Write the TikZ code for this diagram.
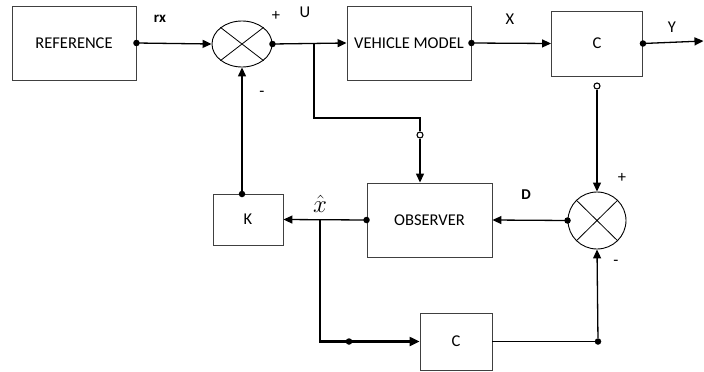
\documentclass[tikz,border=0pt]{standalone}
\usepackage{fontspec}
\setmainfont{Carlito}
\usetikzlibrary{shapes.geometric,arrows.meta}
\begin{document}
\begin{tikzpicture}[x=1pt,y=-1pt,
  blk/.style={draw=black!75, line width=0.9pt, inner sep=0pt, font=\fontsize{16.5}{19}\selectfont},
  sumn/.style={ellipse, draw, line width=0.9pt, inner sep=0pt},
  wire/.style={line width=1.3pt},
  conn/.style={line width=1.3pt, -{Triangle[length=9pt,width=8pt]}},
  bconn/.style={line width=2.2pt, -{Triangle[length=10pt,width=9pt]}},
  dotc/.style={circle, fill, inner sep=0pt, minimum size=6.5pt},
  odot/.style={circle, draw, fill=white, inner sep=0pt, minimum size=6pt, line width=1.1pt},
  lbl/.style={font=\fontsize{16.5}{19}\selectfont},
  blbl/.style={font=\fontsize{15}{18}\selectfont\bfseries}]
\useasboundingbox (0,0) rectangle (704,372);
% blocks
\node[blk, minimum width=124pt, minimum height=74pt] (ref) at (74,43) {REFERENCE};
\node[sumn, minimum width=60pt, minimum height=46pt] (s1) at (242,44) {};
\node[blk, minimum width=124pt, minimum height=74pt] (veh) at (409,43) {VEHICLE MODEL};
\node[blk, minimum width=91pt, minimum height=65pt] (c1) at (597,43.5) {C};
\node[blk, minimum width=125pt, minimum height=74pt] (obs) at (429.5,220) {OBSERVER};
\node[blk, minimum width=70pt, minimum height=51pt] (k) at (248,219.5) {K};
\node[sumn, minimum width=58pt, minimum height=57pt] (s2) at (597,220.5) {};
\node[blk, minimum width=72pt, minimum height=57pt] (c2) at (456,341.5) {C};
% crosses in summing junctions
\draw[line width=0.8pt] (s1.north west) -- (s1.south east) (s1.north east) -- (s1.south west);
\draw[line width=0.8pt] (s2.north west) -- (s2.south east) (s2.north east) -- (s2.south west);
% coordinates
\coordinate (bU) at (314,43);
\coordinate (tU) at (420,118);
\node[odot] (o1) at (420,135) {};
\node[odot] (o2) at (597,86) {};
\coordinate (yout) at (703.5,41);
\coordinate (bx) at (320,220);
\coordinate (kt) at (242,194);
% connectors
\draw[conn] (ref.east) -- (s1.west);
\draw[conn] (s1.east) -- (veh.west);
\draw[wire] (bU) |- (tU) -- (o1);
\draw[conn] (o1) -- (obs.north -| o1);
\draw[conn] (veh.east) -- (c1.west);
\draw[conn] (c1.east) -- (yout);
\draw[conn] (o2) -- (s2.north);
\draw[conn] (s2.west) -- (obs.east);
\draw[conn] (obs.west) -- (k.east);
\draw[conn] (kt) -- (s1.south);
\draw[bconn] (bx) |- (c2.west);
\node[dotc] (d7) at (349,341.5) {};
\node[dotc] (d8) at (598,341.5) {};
\draw[wire] (c2.east) -- (d8);
\draw[conn] (d8) -- (s2.south);
% dots
\node[dotc] at (ref.east) {};
\node[dotc] at (s1.east) {};
\node[dotc] at (veh.east) {};
\node[dotc] at (c1.east) {};
\node[dotc] at (s2.west) {};
\node[dotc] at (obs.west) {};
\node[dotc] at (kt) {};
% labels
\node[blbl] at (160,19) {rx};
\node[lbl] at (276,16) {+};
\node[lbl] at (305,12) {U};
\node[lbl] at (262,94) {-};
\node[lbl] at (510,19) {X};
\node[lbl] at (672,27) {Y};
\node[blbl] at (526,195) {D};
\node[lbl] at (622,178) {+};
\node[lbl] at (616,263) {-};
\node[font=\fontsize{28}{32}\selectfont, anchor=base, inner sep=0pt] at (320,212) {$\hat{x}$};
\end{tikzpicture}
\end{document}
